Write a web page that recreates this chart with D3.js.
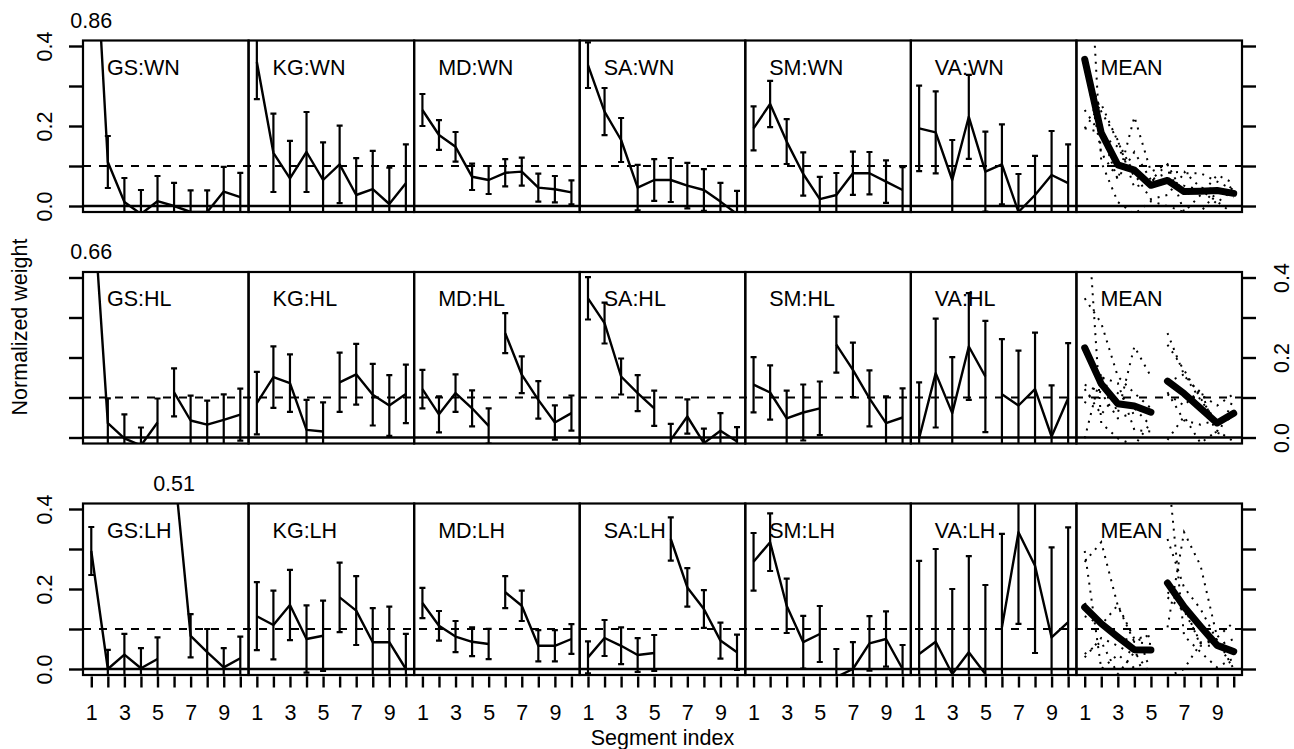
<!DOCTYPE html>
<html>
<head>
<meta charset="utf-8">
<script src="https://cdn.jsdelivr.net/npm/d3@7"></script>
<style>
  body { margin: 0; background: #fff; }
  svg { font-family: "Liberation Sans", Arial, Helvetica, sans-serif; }
</style>
</head>
<body>
<svg id="chart" width="1294" height="749"></svg>
<script>
// ---- data ----
const speakers = ["GS", "KG", "MD", "SA", "SM", "VA"];
const conditions = ["WN", "HL", "LH"];
const segments = [1, 2, 3, 4, 5, 6, 7, 8, 9, 10];
const xTickLabels = [1, 3, 5, 7, 9];
const yTicks = [0, 0.1, 0.2, 0.3, 0.4];
const yTickLabels = [0, 0.2, 0.4];
const refLine = 0.1;
// HL and LH rows are two runs of five segments each
const splitRows = [false, true, true];

// one array per speaker (GS, KG, MD, SA, SM, VA)
const weightWN = [
  [0.86, 0.11, 0.01, -0.02, 0.012, 0.0, -0.015, -0.015, 0.036, 0.022],
  [0.36, 0.133, 0.069, 0.135, 0.065, 0.104, 0.0275, 0.042, 0.005, 0.057],
  [0.24, 0.1775, 0.148, 0.073, 0.065, 0.083, 0.086, 0.046, 0.042, 0.034],
  [0.352, 0.236, 0.165, 0.046, 0.065, 0.065, 0.051, 0.04, 0.011, -0.02],
  [0.194, 0.255, 0.161, 0.08, 0.017, 0.0275, 0.082, 0.082, 0.061, 0.04],
  [0.194, 0.184, 0.065, 0.223, 0.086, 0.104, -0.015, 0.0275, 0.0775, 0.057]
];
const errWN = [
  [0.05, 0.065, 0.06, 0.06, 0.063, 0.058, 0.054, 0.054, 0.062, 0.061],
  [0.093, 0.098, 0.094, 0.1, 0.094, 0.097, 0.092, 0.096, 0.091, 0.097],
  [0.04, 0.037, 0.037, 0.033, 0.035, 0.034, 0.035, 0.035, 0.033, 0.03],
  [0.057, 0.059, 0.055, 0.057, 0.052, 0.055, 0.057, 0.052, 0.047, 0.058],
  [0.055, 0.058, 0.056, 0.054, 0.056, 0.055, 0.054, 0.053, 0.053, 0.057],
  [0.107, 0.1025, 0.1, 0.105, 0.1, 0.1, 0.095, 0.098, 0.11, 0.097]
];

const weightHL = [
  [0.66, 0.036, -0.002, -0.02, 0.0375, 0.113, 0.0425, 0.032, 0.044, 0.057],
  [0.086, 0.151, 0.136, 0.019, 0.015, 0.138, 0.158, 0.107, 0.08, 0.109],
  [0.121, 0.058, 0.111, 0.073, 0.029, 0.261, 0.157, 0.094, 0.0375, 0.061],
  [0.348, 0.286, 0.1525, 0.111, 0.073, -0.006, 0.0525, -0.014, 0.017, -0.01],
  [0.132, 0.1125, 0.048, 0.0625, 0.073, 0.232, 0.169, 0.098, 0.036, 0.05],
  [-0.002, 0.161, 0.061, 0.2275, 0.1525, 0.108, 0.08, 0.121, 0.0025, 0.098]
];
const errHL = [
  [0.05, 0.062, 0.06, 0.045, 0.06, 0.06, 0.062, 0.06, 0.064, 0.065],
  [0.078, 0.077, 0.072, 0.075, 0.073, 0.074, 0.076, 0.077, 0.076, 0.073],
  [0.048, 0.045, 0.047, 0.045, 0.044, 0.05, 0.046, 0.047, 0.043, 0.044],
  [0.053, 0.051, 0.045, 0.045, 0.044, 0.04, 0.043, 0.036, 0.044, 0.036],
  [0.069, 0.068, 0.069, 0.07, 0.067, 0.07, 0.068, 0.07, 0.067, 0.073],
  [0.14, 0.136, 0.14, 0.1335, 0.139, 0.138, 0.137, 0.141, 0.128, 0.138]
];

const weightLH = [
  [0.295, 0.0, 0.036, 0.002, 0.025, 0.51, 0.083, 0.042, 0.004, 0.027],
  [0.132, 0.11, 0.16, 0.075, 0.083, 0.179, 0.146, 0.067, 0.067, 0.0],
  [0.165, 0.108, 0.081, 0.068, 0.0625, 0.192, 0.158, 0.058, 0.058, 0.075],
  [0.029, 0.0775, 0.058, 0.035, 0.04, 0.325, 0.204, 0.15, 0.071, 0.042],
  [0.268, 0.317, 0.158, 0.067, 0.0875, -0.02, 0.0, 0.064, 0.075, 0.0],
  [0.0375, 0.068, -0.0125, 0.042, -0.0125, 0.104, 0.342, 0.258, 0.079, 0.117]
];
const errLH = [
  [0.06, 0.048, 0.052, 0.05, 0.054, 0.05, 0.054, 0.058, 0.048, 0.054],
  [0.085, 0.086, 0.088, 0.084, 0.088, 0.087, 0.086, 0.085, 0.089, 0.088],
  [0.038, 0.037, 0.039, 0.036, 0.038, 0.04, 0.038, 0.039, 0.039, 0.037],
  [0.04, 0.045, 0.046, 0.042, 0.045, 0.054, 0.048, 0.047, 0.045, 0.044],
  [0.072, 0.072, 0.068, 0.066, 0.07, 0.07, 0.067, 0.068, 0.069, 0.06],
  [0.233, 0.232, 0.2125, 0.24, 0.2225, 0.234, 0.229, 0.218, 0.225, 0.237]
];

const weights = [weightWN, weightHL, weightLH];
const errors = [errWN, errHL, errLH];

// ---- layout ----
const plotLeft = 83, plotRight = 1242;
const nPanels = speakers.length + 1;
const panelW = (plotRight - plotLeft) / nPanels;
const rowTop0 = 40.5, rowStep = 231.5, rowH = 171.5;
const yDomain = [-0.015, 0.41375];
const fontSize = 21.5;

const svg = d3.select("#chart");
const defs = svg.append("defs");

const halves = (split) => split ? [segments.slice(0, 5), segments.slice(5)] : [segments];

conditions.forEach((cond, r) => {
  const top = rowTop0 + r * rowStep;
  const y = d3.scaleLinear().domain(yDomain).range([top + rowH, top]);
  const data = weights[r];
  const errs = errors[r];
  const meanSeries = segments.map((s, i) => d3.mean(data, d => d[i]));
  const row = svg.append("g");

  // reference lines across the whole row
  row.append("line")
    .attr("x1", plotLeft).attr("x2", plotRight)
    .attr("y1", y(0)).attr("y2", y(0))
    .attr("stroke", "#000").attr("stroke-width", 2.4);
  row.append("line")
    .attr("x1", plotLeft).attr("x2", plotRight)
    .attr("y1", y(refLine)).attr("y2", y(refLine))
    .attr("stroke", "#000").attr("stroke-width", 2)
    .attr("stroke-dasharray", "8 8");

  for (let p = 0; p < nPanels; p++) {
    const left = plotLeft + p * panelW;
    const x = d3.scaleLinear().domain([0.5, 10.5]).range([left, left + panelW]);
    const clipId = `clip-${r}-${p}`;
    defs.append("clipPath").attr("id", clipId)
      .append("rect").attr("x", left).attr("y", top).attr("width", panelW).attr("height", rowH);

    const isMean = p === speakers.length;
    row.append("text")
      .attr("x", left + 24).attr("y", top + 34)
      .attr("font-size", fontSize)
      .text(isMean ? "MEAN" : `${speakers[p]}:${cond}`);

    const g = row.append("g").attr("clip-path", `url(#${clipId})`);
    const line = d3.line().x(d => x(d.s)).y(d => y(d.v));

    if (!isMean) {
      const pts = segments.map((s, i) => ({ s, v: data[p][i], e: errs[p][i] }));
      const bars = g.selectAll(".bar").data(pts).join("g");
      bars.append("line")
        .attr("x1", d => x(d.s)).attr("x2", d => x(d.s))
        .attr("y1", d => y(d.v - d.e)).attr("y2", d => y(d.v + d.e));
      bars.append("line")
        .attr("x1", d => x(d.s) - 3).attr("x2", d => x(d.s) + 3)
        .attr("y1", d => y(d.v - d.e)).attr("y2", d => y(d.v - d.e));
      bars.append("line")
        .attr("x1", d => x(d.s) - 3).attr("x2", d => x(d.s) + 3)
        .attr("y1", d => y(d.v + d.e)).attr("y2", d => y(d.v + d.e));
      bars.selectAll("line").attr("stroke", "#000").attr("stroke-width", 2.2);

      halves(splitRows[r]).forEach(h => {
        g.append("path")
          .datum(h.map(s => pts[s - 1]))
          .attr("d", line)
          .attr("fill", "none").attr("stroke", "#000").attr("stroke-width", 2.4)
          .attr("stroke-linejoin", "round");
      });

      // values beyond the top of the scale are written above the panel
      pts.filter(d => d.v > yDomain[1]).forEach(d => {
        row.append("text")
          .attr("x", x(d.s)).attr("y", top - 13)
          .attr("text-anchor", "middle").attr("font-size", fontSize)
          .text(d.v.toFixed(2));
      });
    } else {
      data.forEach(series => {
        halves(splitRows[r]).forEach(h => {
          g.append("path")
            .datum(h.map(s => ({ s, v: series[s - 1] })))
            .attr("d", line)
            .attr("fill", "none").attr("stroke", "#000").attr("stroke-width", 2)
            .attr("stroke-dasharray", "2 6");
        });
      });
      halves(splitRows[r]).forEach(h => {
        g.append("path")
          .datum(h.map(s => ({ s, v: meanSeries[s - 1] })))
          .attr("d", line)
          .attr("fill", "none").attr("stroke", "#000").attr("stroke-width", 7)
          .attr("stroke-linejoin", "round").attr("stroke-linecap", "round");
      });
    }

    row.append("rect")
      .attr("x", left).attr("y", top).attr("width", panelW).attr("height", rowH)
      .attr("fill", "none").attr("stroke", "#000").attr("stroke-width", 2.2);

    if (r === conditions.length - 1) {
      const xAxis = row.append("g")
        .attr("transform", `translate(0,${top + rowH + 1.5})`)
        .call(d3.axisBottom(x).tickValues(segments).tickSize(11)
          .tickFormat(d => xTickLabels.includes(d) ? d : ""));
      xAxis.select(".domain").remove();
      xAxis.selectAll("line").attr("stroke-width", 2.4);
      xAxis.selectAll("text").attr("y", 43).attr("dy", 0)
        .attr("font-size", fontSize).attr("font-family", null);
    }
  }

  // left axis: labelled on rows 1 and 3, right axis labelled on row 2
  const labelLeft = r !== 1;
  const fmt = on => d => on && yTickLabels.includes(d) ? d.toFixed(1) : "";
  const leftAxis = row.append("g")
    .attr("transform", `translate(${plotLeft},0)`)
    .call(d3.axisLeft(y).tickValues(yTicks).tickSize(14).tickFormat(fmt(labelLeft)));
  const rightAxis = row.append("g")
    .attr("transform", `translate(${plotRight},0)`)
    .call(d3.axisRight(y).tickValues(yTicks).tickSize(14).tickFormat(fmt(!labelLeft)));
  [leftAxis, rightAxis].forEach(a => {
    a.select(".domain").remove();
    a.selectAll("line").attr("stroke-width", 2.4);
    a.attr("font-family", null);
  });
  leftAxis.selectAll("text")
    .attr("x", null).attr("dy", 0).attr("text-anchor", "middle")
    .attr("font-size", fontSize)
    .attr("transform", "translate(-31,0) rotate(-90)");
  rightAxis.selectAll("text")
    .attr("x", null).attr("dy", 0).attr("text-anchor", "middle")
    .attr("font-size", fontSize)
    .attr("transform", "translate(47,0) rotate(-90)");
});

// axis titles
svg.append("text")
  .attr("x", (plotLeft + plotRight) / 2).attr("y", 745)
  .attr("text-anchor", "middle").attr("font-size", fontSize)
  .text("Segment index");
svg.append("text")
  .attr("transform", "translate(27,327) rotate(-90)")
  .attr("text-anchor", "middle").attr("font-size", fontSize)
  .text("Normalized weight");
</script>
</body>
</html>
